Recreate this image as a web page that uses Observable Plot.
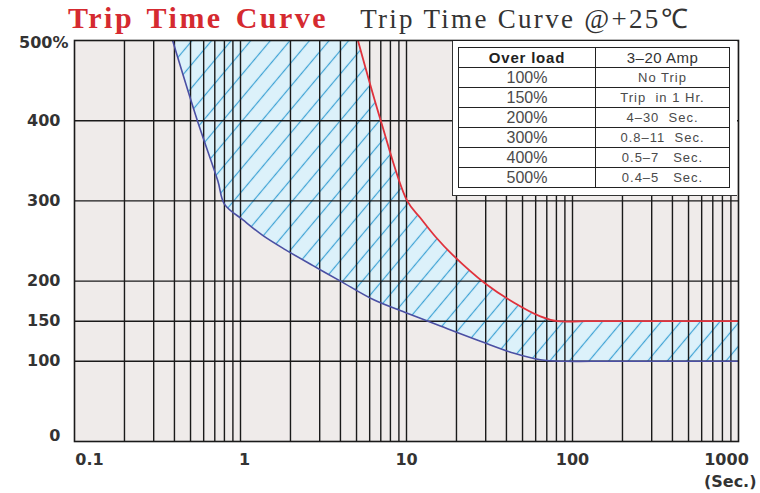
<!DOCTYPE html>
<html><head><meta charset="utf-8">
<script src="https://cdn.jsdelivr.net/npm/d3@7"></script>
<script src="https://cdn.jsdelivr.net/npm/@observablehq/plot@0.6"></script>
<style>
body{margin:0;background:#fff;}
#wrap{position:relative;width:760px;height:493px;overflow:hidden;background:#fff;}
#chart{position:absolute;left:0;top:0;}
#title{position:absolute;left:68px;top:3px;white-space:nowrap;line-height:30px;font-family:"Liberation Serif",serif;font-size:30px;}
.t1{font-weight:bold;color:#d52a30;letter-spacing:2.5px;word-spacing:3px;}
.t2{font-size:27px;color:#333;letter-spacing:2.3px;margin-left:32px;}
#tbox{position:absolute;left:452px;top:41px;width:285px;height:155px;background:#fff;border-left:1.5px solid #333;border-bottom:1.5px solid #333;box-sizing:border-box;}
#tbox table{position:absolute;left:5px;top:6px;border-collapse:collapse;width:272px;table-layout:fixed;}
#tbox td{border:1.5px solid #222;height:19px;padding:0;text-align:center;font-family:"Liberation Sans",Arial,sans-serif;line-height:1;white-space:pre;color:#4a4a4a;}
#tbox td.c1{width:136px;font-size:16px;}
#tbox td.c2{font-size:13px;letter-spacing:1px;}
#tbox tr.head td.c1{font-weight:bold;font-size:15px;letter-spacing:0.8px;color:#222;}
#tbox tr.head td.c2{font-size:15px;letter-spacing:0.5px;color:#333;}
</style></head><body>
<div id="wrap">
<div id="chart"></div>
<div id="title"><span class="t1">Trip Time Curve</span><span class="t2">Trip Time Curve @+25℃</span></div>
<div id="tbox"><table id="tbl"></table></div>
</div>
<script>
// Lower bound (minimum trip time) — blue curve
const blueTime = [0.39, 0.55, 0.73, 0.8, 1.04, 1.36, 1.87, 2.75, 4.0, 6.3, 10.1, 16, 27.9, 44.5, 64, 90, 130, 1000];
const blueLoad = [500, 400, 325, 296, 276, 257, 239, 219, 200, 177, 160, 144, 125, 110, 102, 100, 100, 100];
// Upper bound (maximum trip time) — red curve
const redTime = [5.1, 7, 10.1, 12.1, 15, 18.9, 29.8, 44.5, 64, 81, 120, 1000];
const redLoad = [500, 400, 300, 279, 255, 233, 197, 173, 156, 150, 150, 150];

const loadTicks = [100, 150, 200, 300, 400];
const loadGrid = [100, 150, 200, 300, 400];
const timeGrid = [0.2,0.3,0.4,0.5,0.6,0.7,0.8,0.9,1,2,3,4,5,6,7,8,9,10,20,30,40,50,60,70,80,90,100,200,300,400,500,600,700,800,900];

const tableHeader = ["Over load", "3\u201320 Amp"];
const tableOverload = ["100%", "150%", "200%", "300%", "400%", "500%"];
const tableTrip = ["No Trip", "Trip  in 1 Hr.", "4\u201330  Sec.", "0.8\u201311  Sec.", "0.5\u20137   Sec.", "0.4\u20135   Sec."];

const blue = blueTime.map((t, i) => ({t, load: blueLoad[i]}));
const red = redTime.map((t, i) => ({t, load: redLoad[i]}));
const redRev = red.slice().reverse();
// closed band: blue forward, then red backward; corner points repeated so the curve keeps sharp corners
const band = blue.concat([blue[blue.length - 1], redRev[0]], redRev);

const axisFont = {fontSize: 16, fontWeight: "bold", fill: "#333", fontFamily: "DejaVu Sans"};
const fmt = d => String(d);

const svg = Plot.plot({
  width: 760, height: 493,
  marginTop: 40, marginLeft: 74, marginRight: 22, marginBottom: 52,
  x: {type: "log", domain: [0.1, 1000]},
  y: {domain: [0, 500]},
  style: {fontFamily: "DejaVu Sans", background: "transparent", overflow: "visible"},
  marks: [
    Plot.frame({fill: "#efebea", stroke: null}),
    Plot.line(band, {x: "t", y: "load", fill: "url(#hatch)", stroke: "none", curve: "catmull-rom", clip: true}),
    Plot.gridX(timeGrid, {stroke: "#1a1a1a", strokeOpacity: 1, strokeWidth: 1.4}),
    Plot.gridY(loadGrid, {stroke: "#1a1a1a", strokeOpacity: 1, strokeWidth: 1.4}),
    Plot.line(blue, {x: "t", y: "load", stroke: "#4b4fa3", strokeWidth: 1.6, curve: "catmull-rom", clip: true}),
    Plot.line(red, {x: "t", y: "load", stroke: "#e0323c", strokeWidth: 1.8, curve: "catmull-rom", clip: true}),
    Plot.frame({stroke: "#1a1a1a", strokeWidth: 1.6}),
    Plot.axisY(loadTicks, {tickSize: 0, tickPadding: 14, tickFormat: fmt, label: null, ...axisFont}),
    Plot.axisY([0], {tickSize: 0, tickPadding: 14, tickFormat: fmt, dy: -6, label: null, ...axisFont}),
    Plot.axisY([500], {tickSize: 0, tickPadding: 6, tickFormat: d => d + "%", dy: 2, label: null, ...axisFont}),
    Plot.axisX([0.1], {tickSize: 0, tickPadding: 12, tickFormat: fmt, dx: 15, label: null, ...axisFont}),
    Plot.axisX([1], {tickSize: 0, tickPadding: 12, tickFormat: fmt, dx: 4, label: null, ...axisFont}),
    Plot.axisX([10, 100], {tickSize: 0, tickPadding: 12, tickFormat: fmt, label: null, ...axisFont}),
    Plot.axisX([1000], {tickSize: 0, tickPadding: 12, tickFormat: fmt, dx: -12, label: null, ...axisFont}),
    Plot.text(["(Sec.)"], {frameAnchor: "bottom-right", text: d => d, textAnchor: "end", lineAnchor: "top", dx: 18, dy: 34, ...axisFont})
  ]
});

const defs = d3.select(svg).insert("defs", ":first-child");
const pat = defs.append("pattern").attr("id", "hatch").attr("patternUnits", "userSpaceOnUse")
  .attr("width", 15).attr("height", 15).attr("patternTransform", "rotate(40)");
pat.append("rect").attr("width", 15).attr("height", 15).attr("fill", "#dcf1fa");
pat.append("line").attr("x1", 7.5).attr("y1", -1).attr("x2", 7.5).attr("y2", 16)
  .attr("stroke", "#3fa3d5").attr("stroke-width", 1.2);

document.getElementById("chart").appendChild(svg);

const tbl = d3.select("#tbl");
const head = tbl.append("tr").attr("class", "head");
head.append("td").attr("class", "c1").text(tableHeader[0]);
head.append("td").attr("class", "c2").text(tableHeader[1]);
tableOverload.forEach((o, i) => {
  const tr = tbl.append("tr");
  tr.append("td").attr("class", "c1").text(o);
  tr.append("td").attr("class", "c2").text(tableTrip[i]);
});
</script>
</body></html>
